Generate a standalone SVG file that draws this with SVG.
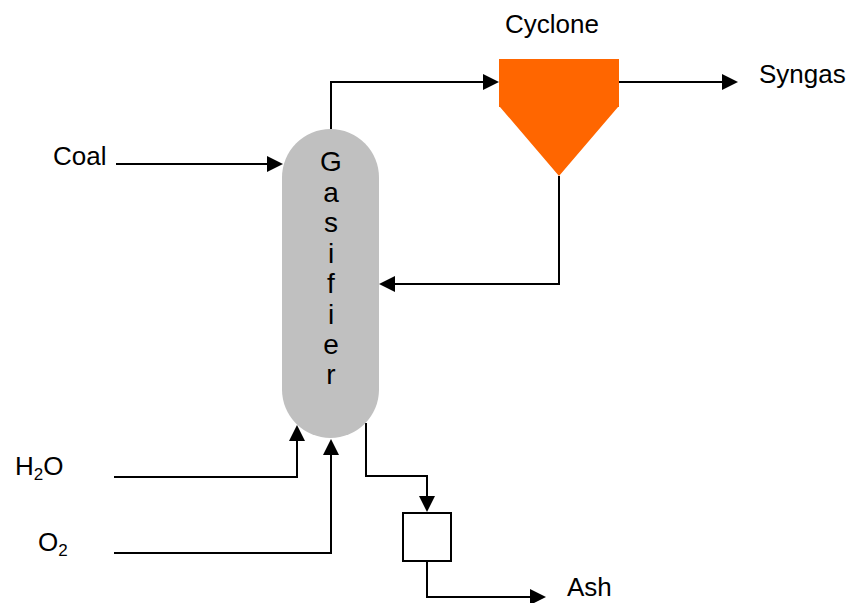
<svg xmlns="http://www.w3.org/2000/svg" width="850" height="603" viewBox="0 0 850 603">
<style>
.lbl{font-family:"Liberation Sans",Arial,sans-serif;font-size:26px;fill:#000}
.gz{font-size:28px}
.sub{font-size:17px}
.ln{fill:none;stroke:#000;stroke-width:2;marker-end:url(#ah)}
</style>
<defs>
<marker id="ah" markerUnits="userSpaceOnUse" markerWidth="16" markerHeight="16" refX="14" refY="8" orient="auto" viewBox="0 0 16 16">
<path d="M0,0 L16,8 L0,16 z" fill="#000"/>
</marker>
</defs>
<rect width="850" height="603" fill="#fff"/>
<g id="connectors">
<path class="ln" d="M116,164 H281"/>
<path class="ln" d="M331,129 V82 H497"/>
<path class="ln" d="M619,82 H736"/>
<path class="ln" d="M559,176 V284 H381"/>
<path class="ln" d="M114,477 H297 V427"/>
<path class="ln" d="M114,553 H331 V441"/>
<path class="ln" d="M366,423 V476 H427 V510"/>
<path class="ln" d="M427,561 V597 H544"/>
</g>
<g id="gasifier">
<rect x="282" y="129" width="97" height="309" rx="48.5" ry="48.5" fill="#C0C0C0"/>
<text class="lbl gz" text-anchor="middle" x="331"><tspan x="331" y="171">G</tspan><tspan x="331" y="202">a</tspan><tspan x="331" y="232">s</tspan><tspan x="331" y="263">i</tspan><tspan x="331" y="293">f</tspan><tspan x="331" y="324">i</tspan><tspan x="331" y="354">e</tspan><tspan x="331" y="384">r</tspan></text>
</g>
<g id="cyclone">
<path d="M499,59 H619 V107 H618 L559,176 L500,107 H499 Z" fill="#FF6600"/>
<text class="lbl" x="505" y="33">Cyclone</text>
</g>
<g id="ash-box">
<rect x="403" y="513" width="48" height="48" fill="#fff" stroke="#000" stroke-width="2"/>
</g>
<g id="labels">
<text class="lbl" x="53" y="165">Coal</text>
<text class="lbl" x="759" y="83">Syngas</text>
<text class="lbl" x="15" y="475">H<tspan class="sub" dy="5">2</tspan><tspan dy="-5">O</tspan></text>
<text class="lbl" x="38" y="551">O<tspan class="sub" dy="5">2</tspan></text>
<text class="lbl" x="567" y="596">Ash</text>
</g>
</svg>
